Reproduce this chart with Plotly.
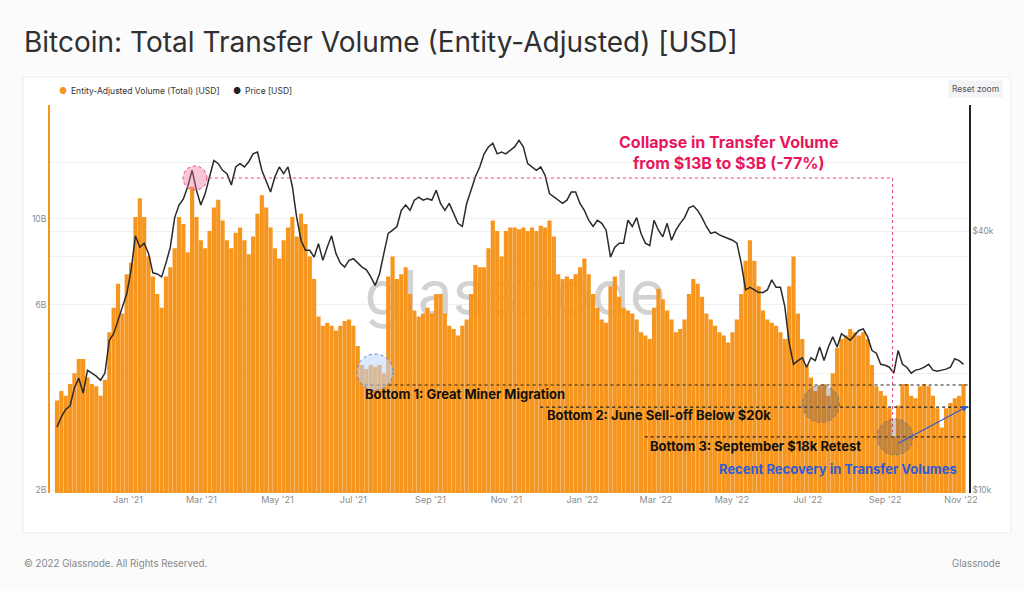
import pandas as pd
import plotly.graph_objects as go

# half-weekly samples, starting 5 Nov 2020
dates = pd.date_range('2020-11-05', periods=209, freq='84h')

volume_bn = [
    3.4, 3.6, 3.5, 3.75, 4.0, 4.35, 4.35, 3.9, 3.75, 3.7,
    3.5, 3.85, 5.1, 5.9, 6.8, 5.7, 7.2, 7.7, 10.1, 11.3,
    10.1, 8.0, 7.1, 6.4, 5.9, 7.1, 7.5, 8.4, 10.1, 9.7,
    8.2, 12.1, 10.1, 8.8, 8.4, 9.3, 10.7, 11.2, 9.9, 8.8,
    8.4, 9.2, 9.5, 8.8, 8.1, 9.0, 10.3, 11.5, 10.7, 9.5,
    8.4, 7.9, 8.8, 9.5, 10.1, 9.0, 10.3, 9.7, 8.0, 7.0,
    5.6, 5.3, 5.4, 5.3, 5.15, 5.3, 5.45, 5.5, 5.3, 4.7,
    4.2, 4.1, 4.2, 4.15, 4.2, 4.0, 7.1, 8.0, 7.0, 7.2,
    7.5, 6.4, 5.8, 5.6, 5.7, 5.9, 5.7, 6.4, 6.4, 5.7,
    5.3, 5.2, 5.0, 5.3, 5.5, 6.4, 7.6, 7.5, 7.5, 8.4,
    9.9, 9.3, 8.0, 9.3, 9.5, 9.5, 9.4, 9.5, 9.3, 9.5,
    9.3, 9.6, 9.5, 9.9, 9.0, 7.2, 7.0, 7.1, 7.0, 7.2,
    7.5, 7.9, 7.2, 6.4, 5.9, 5.5, 5.4, 6.7, 7.1, 6.3,
    5.9, 5.8, 5.7, 5.5, 5.1, 5.0, 4.9, 5.9, 6.6, 6.2,
    5.8, 5.5, 5.1, 5.2, 5.5, 6.4, 7.0, 6.8, 6.3, 5.7,
    5.5, 5.3, 5.1, 5.0, 4.8, 5.1, 5.5, 6.4, 7.8, 8.8,
    7.8, 6.7, 5.8, 5.5, 5.4, 5.3, 5.1, 4.9, 6.7, 8.0,
    5.7, 4.9, 4.2, 3.9, 3.6, 3.7, 3.75, 3.5, 4.0, 4.65,
    4.9, 5.0, 5.2, 5.1, 5.0, 5.1, 4.9, 4.2, 3.7, 3.6,
    3.5, 3.25, 2.75, 3.3, 3.75, 3.75, 3.5, 3.45, 3.7, 3.75,
    3.7, 3.5, 3.25, 2.9, 3.25, 3.35, 3.45, 3.5, 3.75,
]

price_k = [
    14.0, 14.8, 15.4, 15.7, 17.3, 18.2, 16.8, 19.0, 18.7, 18.4,
    18.0, 18.7, 22.3, 23.1, 24.8, 26.7, 28.6, 32.5, 39.0, 36.7,
    37.5, 35.5, 32.0, 31.8, 31.3, 33.7, 36.7, 43.0, 46.0, 47.5,
    50.8, 55.4, 49.8, 46.0, 48.9, 53.5, 58.4, 57.4, 55.4, 54.4,
    51.2, 56.4, 57.4, 56.4, 58.0, 60.5, 61.1, 55.4, 52.5, 49.3,
    53.5, 56.4, 54.4, 56.4, 50.8, 43.0, 38.1, 36.1, 36.1, 34.8,
    37.4, 34.2, 36.7, 39.0, 35.5, 33.7, 33.0, 34.2, 34.5, 33.7,
    33.0, 32.5, 31.3, 29.9, 31.8, 35.5, 39.5, 40.2, 41.0, 44.7,
    46.0, 44.7, 47.2, 48.0, 47.2, 47.6, 47.2, 49.8, 46.4, 44.7,
    46.4, 44.0, 41.7, 41.0, 46.4, 49.8, 53.5, 56.4, 60.5, 62.8,
    64.0, 60.5, 61.1, 60.5, 61.6, 62.8, 65.0, 62.8, 57.4, 56.4,
    55.4, 56.4, 53.9, 48.9, 48.0, 47.2, 46.4, 47.2, 49.3, 49.3,
    46.4, 44.7, 42.4, 41.0, 42.4, 41.7, 40.2, 34.8, 36.7, 37.5,
    37.5, 42.4, 41.0, 43.0, 39.5, 37.5, 37.0, 42.4, 40.2, 38.8,
    41.7, 38.1, 40.2, 41.7, 43.0, 45.3, 45.8, 44.7, 43.0, 41.0,
    39.5, 39.8, 39.2, 38.8, 38.4, 38.1, 37.5, 33.7, 29.2, 29.6,
    29.2, 28.8, 28.8, 29.2, 30.8, 29.6, 29.6, 26.7, 22.0, 19.6,
    20.0, 20.3, 19.3, 20.3, 20.0, 21.5, 20.0, 21.5, 22.7, 21.5,
    23.1, 22.7, 22.3, 22.9, 23.5, 23.7, 22.7, 21.1, 20.8, 19.6,
    19.5, 19.3, 18.7, 21.1, 19.6, 19.3, 18.7, 19.0, 19.1, 19.3,
    19.6, 19.0, 18.9, 19.0, 19.1, 19.3, 20.2, 20.0, 19.6,
]

tick_dates = ['2021-01-01', '2021-03-01', '2021-05-01', '2021-07-01', '2021-09-01', '2021-11-01',
              '2022-01-01', '2022-03-01', '2022-05-01', '2022-07-01', '2022-09-01', '2022-11-01']
tick_text = ["Jan '21", "Mar '21", "May '21", "Jul '21", "Sep '21", "Nov '21",
             "Jan '22", "Mar '22", "May '22", "Jul '22", "Sep '22", "Nov '22"]

vol_ticks = [2e9, 4e9, 6e9, 8e9, 10e9, 14e9]
vol_text = ['2B', '', '6B', '', '10B', '']
price_ticks = [1e4, 4e4]
price_text = ['$10k', '$40k']

ORANGE = '#f7961f'
PINK = '#e8175d'
BLUE = '#2e5bd6'
FONT = 'Inter'

W, H = 1024, 590
L, R, T, B = 50, 55, 105, 97
PW, PH = W - L - R, H - T - B


def px(x):
    return (x - L) / PW


def py(y):
    return (H - B - y) / PH


fig = go.Figure()

# watermark sits on the base axis so the bars cover it
fig.add_trace(go.Scatter(x=['2021-11-08'], y=[0.5], mode='text', text=['glassnode'],
                         textfont=dict(family=FONT, size=62, color='#d2d2d2'),
                         hoverinfo='skip', showlegend=False, yaxis='y'))

fig.add_trace(go.Bar(x=dates, y=[v * 1e9 for v in volume_bn], name='Entity-Adjusted Volume (Total) [USD]',
                     marker=dict(color=ORANGE, line=dict(width=0)), yaxis='y2', showlegend=False))

fig.add_trace(go.Scatter(x=dates, y=[p * 1e3 for p in price_k], name='Price [USD]', mode='lines',
                         line=dict(color='#2a2a2a', width=1.5), yaxis='y3', showlegend=False))

dot = dict(color='#222', width=1.2, dash='dot')
pink_dot = dict(color='#e8417a', width=1, dash='dot')
shapes = [
    # card
    dict(type='rect', xref='paper', yref='paper', x0=px(23), x1=px(1011), y0=py(533), y1=py(77),
         fillcolor='white', line=dict(color='#ebebeb', width=1), layer='below'),
    # collapse guide
    dict(type='line', xref='x', yref='y2', x0='2021-03-07', x1='2022-09-07', y0=12.74e9, y1=12.74e9, line=pink_dot),
    dict(type='line', xref='x', yref='y2', x0='2022-09-07', x1='2022-09-07', y0=12.74e9, y1=2.82e9, line=pink_dot),
    # bottoms
    dict(type='line', xref='x', yref='y2', x0='2021-07-10', x1='2022-11-07', y0=3.73e9, y1=3.73e9, line=dot),
    dict(type='line', xref='x', yref='y2', x0='2021-11-28', x1='2022-11-07', y0=3.27e9, y1=3.27e9, line=dot),
    dict(type='line', xref='x', yref='y2', x0='2022-02-20', x1='2022-11-07', y0=2.74e9, y1=2.74e9, line=dot),
]

# highlight circles (pixel centre, radius)
circles = [
    (195, 178, 12, 'rgba(240,110,160,0.40)', '#e8417a'),
    (375, 372, 18, 'rgba(190,215,255,0.55)', '#5b7fd6'),
    (821, 404, 18.5, 'rgba(110,100,100,0.35)', '#777'),
    (895, 437, 18, 'rgba(110,100,100,0.35)', '#777'),
]
for cx, cy, r, fill, edge in circles:
    shapes.append(dict(type='circle', xref='paper', yref='paper',
                       x0=px(cx - r), x1=px(cx + r), y0=py(cy + r), y1=py(cy - r),
                       fillcolor=fill, line=dict(color=edge, width=1, dash='dot')))


def note(x, y, text, size=13, color='#111', xanchor='left', **kw):
    return dict(xref='paper', yref='paper', x=px(x), y=py(y), text=text, showarrow=False,
                xanchor=xanchor, yanchor='middle', font=dict(family=FONT, size=size, color=color), **kw)


annotations = [
    note(22, 42, 'Bitcoin: Total Transfer Volume (Entity-Adjusted) [USD]', size=28, color='#303030'),
    note(63, 91, '●', size=9, color=ORANGE, xanchor='center'),
    note(69, 91, 'Entity-Adjusted Volume (Total) [USD]', size=8.5, color='#333'),
    note(237, 91, '●', size=9, color='#222', xanchor='center'),
    note(243, 91, 'Price [USD]', size=8.5, color='#333'),
    note(975, 89, 'Reset zoom', size=8.5, color='#555', xanchor='center', bgcolor='#f2f3f5', borderpad=3),
    note(728, 152, '<b>Collapse in Transfer Volume<br>from $13B to $3B (-77%)</b>', size=16, color=PINK,
         xanchor='center'),
    note(363, 394, '<b>Bottom 1: Great Miner Migration</b>'),
    note(545, 415, '<b>Bottom 2: June Sell-off Below $20k</b>'),
    note(648, 446, '<b>Bottom 3: September $18k Retest</b>'),
    note(717, 469, '<b>Recent Recovery in Transfer Volumes</b>', color=BLUE),
    note(22, 563, '© 2022 Glassnode. All Rights Reserved.', size=9.7, color='#888'),
    note(1003, 563, 'Glassnode', size=9.7, color='#888', xanchor='right'),
    dict(xref='paper', yref='paper', x=px(968), y=py(406), ax=-71, ay=38, text='', showarrow=True,
         arrowhead=2, arrowsize=1, arrowwidth=1.2, arrowcolor=BLUE),
]

xfont = dict(family=FONT, size=9, color='#8c8c8c')
yfont = dict(family=FONT, size=8.5, color='#8c8c8c')
fig.update_layout(
    width=W, height=H,
    margin=dict(l=L, r=R, t=T, b=B),
    paper_bgcolor='#fbfbfc', plot_bgcolor='white',
    font=dict(family=FONT),
    bargap=0.04,
    showlegend=False,
    xaxis=dict(type='date', range=['2020-10-30 09:00', '2022-11-07 10:00'],
               tickvals=tick_dates, ticktext=tick_text, tickfont=xfont,
               showgrid=False, zeroline=False, showline=False, ticks=''),
    yaxis=dict(range=[0, 1], visible=False),
    yaxis2=dict(type='log', range=[9.2933, 10.2933], overlaying='y', side='left',
                tickvals=vol_ticks, ticktext=vol_text, tickfont=yfont,
                showgrid=True, gridcolor='#f0f0f0', showline=True, linecolor=ORANGE, linewidth=2,
                zeroline=False, ticks=''),
    yaxis3=dict(type='log', range=[3.99302, 4.89535], overlaying='y', side='right',
                tickvals=price_ticks, ticktext=price_text, tickfont=yfont,
                showgrid=True, gridcolor='#f0f0f0', showline=True, linecolor='#222', linewidth=1.5,
                zeroline=False, ticks=''),
    shapes=shapes,
    annotations=annotations,
)

fig.write_html("out.html", config={'displayModeBar': False},
               post_script="document.body.style.margin='0';document.body.style.overflow='hidden';")
